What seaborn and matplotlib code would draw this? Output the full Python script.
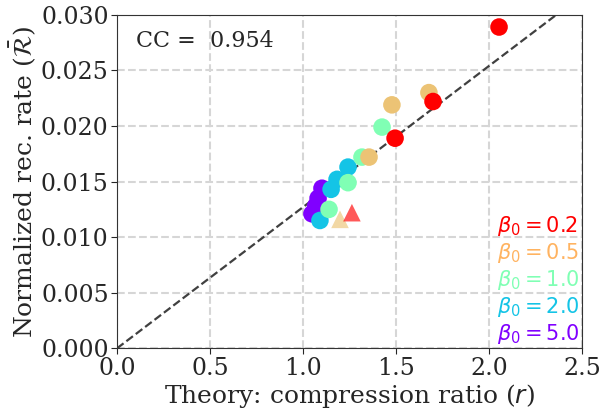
import numpy as np
import pandas as pd
import matplotlib
matplotlib.use("Agg")
import matplotlib.pyplot as plt
import seaborn as sns

# beta_0 values and their colours (dots / legend text)
betas = ["5.0", "2.0", "1.0", "0.5", "0.2"]
dot_colors = {"0.2": "#ff0000", "0.5": "#ecc375", "1.0": "#80ffb4",
              "2.0": "#14c4e6", "5.0": "#8000ff"}
text_colors = {"0.2": "#ff0000", "0.5": "#ffb360", "1.0": "#80ffb4",
               "2.0": "#14c4e6", "5.0": "#8000ff"}

# circles: theory compression ratio vs normalized rec. rate
r_b5 = [1.102, 1.081, 1.068, 1.048]
rate_b5 = [0.0144, 0.0135, 0.0128, 0.0121]
r_b2 = [1.242, 1.183, 1.151, 1.091]
rate_b2 = [0.0163, 0.0152, 0.0143, 0.0115]
r_b1 = [1.425, 1.317, 1.242, 1.140]
rate_b1 = [0.0199, 0.0172, 0.0149, 0.0125]
r_b05 = [1.677, 1.478, 1.355]
rate_b05 = [0.0230, 0.0219, 0.0172]
r_b02 = [2.054, 1.699, 1.495]
rate_b02 = [0.0289, 0.0222, 0.0189]

# triangles (outliers)
tri_r = [1.199, 1.263]
tri_rate = [0.0116, 0.0122]
tri_beta = ["0.5", "0.2"]

cc_value = 0.954
fit_slope = 0.0127

df = pd.concat([
    pd.DataFrame({"r": r_b5, "rate": rate_b5, "beta": "5.0"}),
    pd.DataFrame({"r": r_b2, "rate": rate_b2, "beta": "2.0"}),
    pd.DataFrame({"r": r_b1, "rate": rate_b1, "beta": "1.0"}),
    pd.DataFrame({"r": r_b05, "rate": rate_b05, "beta": "0.5"}),
    pd.DataFrame({"r": r_b02, "rate": rate_b02, "beta": "0.2"}),
], ignore_index=True)
df_tri = pd.DataFrame({"r": tri_r, "rate": tri_rate, "beta": tri_beta})

sns.set_style("ticks")
plt.rcParams['font.family'] = ['DejaVu Serif']
plt.rcParams['mathtext.fontset'] = 'dejavusans'

fig, ax = plt.subplots(figsize=(6, 4.11), dpi=100)
fig.subplots_adjust(left=0.195, right=0.97, bottom=0.1525, top=0.964)

ax.grid(True, linestyle='--', color='#d6d6d6', linewidth=1.5)
ax.set_axisbelow(True)

xs = np.array([0.0, 2.5])
ax.plot(xs, fit_slope * xs, linestyle='--', color='#404040', linewidth=1.6, zorder=1)

sns.scatterplot(data=df, x='r', y='rate', hue='beta', palette=dot_colors,
                s=160, linewidth=0, legend=False, ax=ax, zorder=3)
sns.scatterplot(data=df_tri, x='r', y='rate', hue='beta', palette=dot_colors,
                marker='^', s=160, linewidth=0, alpha=0.65, legend=False, ax=ax, zorder=3)

# colored text-only legend
handles = [plt.Line2D([], [], linestyle='none', marker='') for _ in betas]
labels = [rf"$\beta_0 = {b}$" for b in betas[::-1]]
leg = ax.legend(handles, labels, loc='lower right', frameon=False,
                handlelength=0, handletextpad=0, fontsize=15,
                labelspacing=0.15, borderaxespad=0.0, borderpad=0.1)
for txt, b in zip(leg.get_texts(), betas[::-1]):
    txt.set_color(text_colors[b])

ax.text(0.04, 0.92, f"CC =  {cc_value:.3f}", transform=ax.transAxes,
        fontsize=16, va='center', ha='left')

ax.set_xlim(0, 2.5)
ax.set_ylim(0, 0.030)
ax.set_xticks(np.arange(0, 2.51, 0.5))
ax.set_yticks(np.arange(0, 0.0301, 0.005))
ax.xaxis.set_major_formatter(matplotlib.ticker.FormatStrFormatter('%.1f'))
ax.yaxis.set_major_formatter(matplotlib.ticker.FormatStrFormatter('%.3f'))
ax.tick_params(labelsize=17, length=4, pad=2)
ax.set_xlabel(r"Theory: compression ratio ($r$)", fontsize=18, labelpad=2)
ax.set_ylabel(r"Normalized rec. rate ($\bar{\mathcal{R}}$)", fontsize=18, labelpad=2)
for sp in ax.spines.values():
    sp.set_color('#333333')

plt.savefig("out.png", dpi=100)
plt.close()
